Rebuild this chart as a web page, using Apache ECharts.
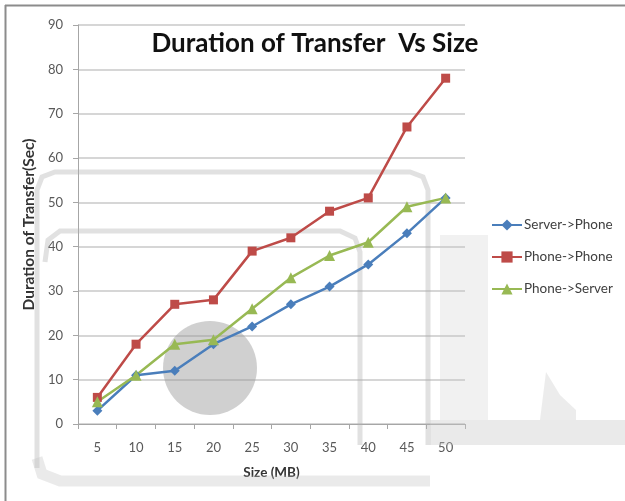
<!DOCTYPE html>
<html>
<head>
<meta charset="utf-8">
<script src="https://cdn.jsdelivr.net/npm/echarts@6/dist/echarts.min.js"></script>
<style>
  html, body { margin: 0; padding: 0; background: #fff; }
  #chart { width: 625px; height: 501px; }
</style>
</head>
<body>
<div id="chart"></div>
<script>
// File sizes (MB) on the x axis
const sizes = ['5', '10', '15', '20', '25', '30', '35', '40', '45', '50'];
// Transfer durations (seconds) per direction
const serverToPhone = [3, 11, 12, 18, 22, 27, 31, 36, 43, 51];
const phoneToPhone = [6, 18, 27, 28, 39, 42, 48, 51, 67, 78];
const phoneToServer = [5, 11, 18, 19, 26, 33, 38, 41, 49, 51];
const seriesNames = ['Server->Phone', 'Phone->Phone', 'Phone->Server'];

const FONT = 'Lato, "Open Sans", sans-serif';
const chart = echarts.init(document.getElementById('chart'), null, { renderer: 'canvas' });

function lineSeries(name, data, color, symbol, size) {
  return {
    name: name,
    type: 'line',
    data: data,
    symbol: symbol,
    symbolSize: size,
    color: color,
    lineStyle: { width: 2.5, color: color },
    itemStyle: { color: color },
    z: 5
  };
}

// Faint backdrop shapes and the page frame
const band = 'rgba(175,175,175,0.38)';
const backdrop = [
  { type: 'circle', shape: { cx: 210, cy: 368, r: 47 }, style: { fill: 'rgba(150,150,150,0.45)' }, z: 1 },
  { type: 'polyline', shape: { points: [[37, 468], [37, 190], [42, 177], [55, 172], [410, 172], [423, 177], [428, 190], [428, 445]] },
    style: { stroke: band, lineWidth: 5, fill: null }, z: 1 },
  { type: 'polyline', shape: { points: [[45, 262], [48, 240], [60, 231], [340, 231], [355, 238], [360, 252], [360, 445]] },
    style: { stroke: band, lineWidth: 5, fill: null }, z: 1 },
  { type: 'polyline', shape: { points: [[37, 458], [42, 474], [60, 481], [430, 481]] },
    style: { stroke: 'rgba(195,195,195,0.35)', lineWidth: 11, fill: null }, z: 1 },
  { type: 'rect', shape: { x: 440, y: 235, width: 48, height: 185 }, style: { fill: 'rgba(200,200,200,0.25)' }, z: 1 },
  { type: 'rect', shape: { x: 430, y: 420, width: 195, height: 25 }, style: { fill: 'rgba(200,200,200,0.38)' }, z: 1 },
  { type: 'polygon', shape: { points: [[540, 420], [546, 372], [560, 395], [576, 410], [576, 420]] },
    style: { fill: 'rgba(200,200,200,0.35)' }, z: 1 },
  { type: 'line', shape: { x1: 5, y1: 5.5, x2: 625, y2: 5.5 }, style: { stroke: '#8c8c8c', lineWidth: 2 }, z: 10 },
  { type: 'line', shape: { x1: 5.5, y1: 5, x2: 5.5, y2: 501 }, style: { stroke: '#8c8c8c', lineWidth: 2 }, z: 10 }
];

chart.setOption({
  animation: false,
  backgroundColor: '#ffffff',
  title: {
    text: 'Duration of Transfer  Vs Size',
    left: 310,
    top: 26,
    textAlign: 'center',
    textStyle: { fontFamily: FONT, fontWeight: 'bold', fontSize: 26, color: '#111' }
  },
  legend: {
    orient: 'vertical',
    left: 486,
    top: 213,
    itemWidth: 30,
    itemHeight: 14,
    itemGap: 18,
    data: seriesNames,
    textStyle: { fontFamily: FONT, fontSize: 13.5, color: '#404040', padding: [0, 0, 0, -3] }
  },
  grid: { left: 78, right: 160, top: 25, bottom: 77 },
  xAxis: {
    type: 'category',
    data: sizes,
    boundaryGap: true,
    name: 'Size (MB)',
    nameLocation: 'middle',
    nameGap: 42,
    nameTextStyle: { fontFamily: FONT, fontWeight: 'bold', fontSize: 13.5, color: '#333' },
    axisLine: { lineStyle: { color: '#a6a6a6', width: 1 } },
    axisTick: { show: true, alignWithLabel: false, length: 5, lineStyle: { color: '#a6a6a6' } },
    axisLabel: { fontFamily: FONT, fontSize: 13, color: '#595959', margin: 17 },
    splitLine: { show: false }
  },
  yAxis: {
    type: 'value',
    min: 0,
    max: 90,
    interval: 10,
    name: 'Duration of Transfer(Sec)',
    nameLocation: 'middle',
    nameGap: 31,
    nameTextStyle: { fontFamily: FONT, fontWeight: 'bold', fontSize: 15.5, color: '#333' },
    axisLine: { show: true, lineStyle: { color: '#a6a6a6', width: 1 } },
    axisTick: { show: true, length: 5, lineStyle: { color: '#a6a6a6' } },
    axisLabel: { fontFamily: FONT, fontSize: 13, color: '#595959', margin: 15 },
    splitLine: { show: true, lineStyle: { color: '#c8c8c8', width: 1.5 } }
  },
  graphic: backdrop,
  series: [
    lineSeries(seriesNames[0], serverToPhone, '#4a7ebb', 'diamond', 10),
    lineSeries(seriesNames[1], phoneToPhone, '#be4b48', 'rect', 9),
    lineSeries(seriesNames[2], phoneToServer, '#98b954', 'triangle', 11)
  ]
});
</script>
</body>
</html>
